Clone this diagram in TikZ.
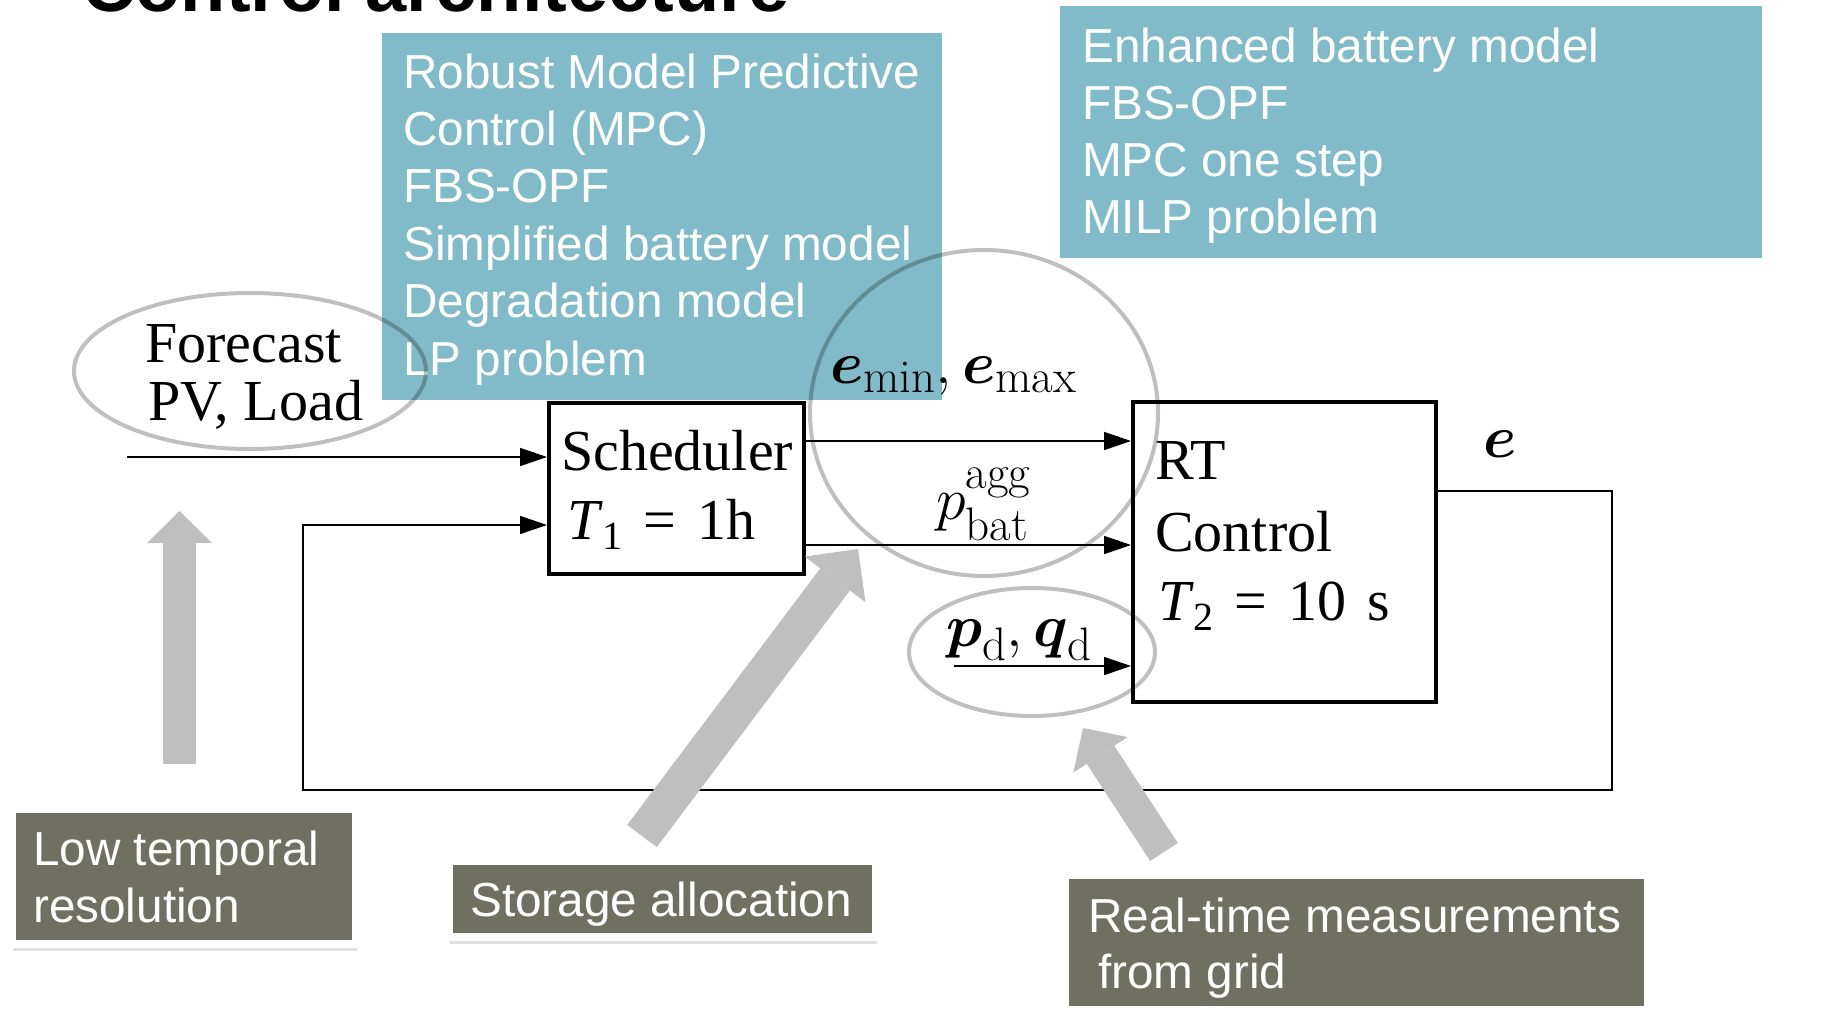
\RequirePackage{fix-cm}
\documentclass[tikz,border=0pt]{standalone}
\usepackage{amsmath}
\usepackage{amssymb}
\usepackage{fontspec}
\newfontfamily\blockfont{Liberation Serif}
\newfontfamily\notefont{Liberation Sans}
\usetikzlibrary{arrows.meta,shadows}
\DeclareMathSizes{60}{60}{47}{36}

\definecolor{mpcteal}{RGB}{129,187,201}
\definecolor{notegray}{RGB}{112,112,98}
\definecolor{hintgray}{RGB}{191,191,191}

\newcommand{\tsub}[2]{\textit{#1}\raisebox{-0.18em}{\fontsize{40}{40}\selectfont #2}}
\newcommand{\eqgap}{\hspace{.36em}}

\tikzset{
  blocktext/.style={anchor=base west, inner sep=0pt, font=\blockfont\fontsize{58}{70}\selectfont},
  mathtext/.style={anchor=base west, inner sep=0pt, font=\fontsize{60}{72}\selectfont},
  listtext/.style={anchor=base west, inner sep=0pt, text=white, font=\notefont\fontsize{47.7}{57}\selectfont},
  block/.style={draw, line width=4pt, inner sep=0pt},
  signal/.style={line width=1.6pt, -{Triangle[length=27pt,width=18pt]}},
  halo/.style={draw=black, draw opacity=0.25, line width=4pt},
  hint/.style={draw=hintgray, line cap=butt},
  notebox/.style={fill=notegray, draw=white, line width=8pt, inner sep=0pt,
    drop shadow={shadow xshift=0.5pt, shadow yshift=-7pt, opacity=0.12, fill=black}},
}

\begin{document}
\begin{tikzpicture}[x=1pt, y=-1pt]
  \useasboundingbox (0,0) rectangle (1839,1012);

  \node[anchor=base west, inner sep=0pt, font=\notefont\bfseries\fontsize{74}{89}\selectfont] (title) at (82,11) {Control architecture};

  % solver notes
  \fill[mpcteal] (382,33) rectangle (942,400);
  \foreach \txt [count=\i from 0] in {Robust Model Predictive, Control (MPC), FBS-OPF, Simplified battery model, Degradation model, LP problem}
    \node[listtext] (mpc\i) at (403,{88+57.4*\i}) {\txt};
  \fill[mpcteal] (1060,6) rectangle (1762,258);
  \foreach \txt [count=\i from 0] in {Enhanced battery model, FBS-OPF, MPC one step, MILP problem}
    \node[listtext] (rt\i) at (1082,{62+57*\i}) {\txt};

  \draw[halo] (250,371) ellipse [x radius=176, y radius=78];
  \draw[halo] (984,413) ellipse [x radius=174, y radius=163];
  \draw[halo] (1032,652) ellipse [x radius=123, y radius=64];

  % the two control blocks
  \node[block, minimum width=255pt, minimum height=171pt] (sched) at (676.5,488.5) {};
  \node[block, minimum width=303pt, minimum height=300pt] (rt) at (1284.5,552) {};

  \node[blocktext] (schedname) at (561,470) {Scheduler};
  \node[blocktext] (schedstep) at (567,539) {\tsub{T}{1}\eqgap=\eqgap1h};
  \node[blocktext] (rtname) at (1155,479) {RT};
  \node[blocktext] (rtname2) at (1155,551) {Control};
  \node[blocktext] (rtstep) at (1158,620) {\tsub{T}{2}\eqgap=\eqgap10\eqgap s};
  \node[blocktext] (fc) at (145,362) {Forecast};
  \node[blocktext] (fc2) at (148,420) {PV, Load};

  \coordinate (fcin) at (127,457);
  \coordinate (elev) at (0,441);
  \coordinate (plev) at (0,545);
  \coordinate (pdin) at (954,666);
  \coordinate (eout) at (0,491);
  \coordinate (fbr) at (1612,790);
  \coordinate (fbl) at (303,790);
  \coordinate (fblev) at (0,525);

  \draw[signal] (fcin) -- (sched.west |- fcin);
  \draw[signal] (sched.east |- elev) -- (rt.west |- elev);
  \draw[signal] (sched.east |- plev) -- (rt.west |- plev);
  \draw[signal] (pdin) -- (rt.west |- pdin);
  \draw[signal] (rt.east |- eout) -| (fbr) -- (fbl) |- (sched.west |- fblev);

  \node[mathtext] (elab) at (830,383) {$\boldsymbol{e}_{\mathrm{min}},\boldsymbol{e}_{\mathrm{max}}$};
  \node[mathtext] (plab) at (936,519) {$p^{\mathrm{agg}}_{\mathrm{bat}}$};
  \node[mathtext] (pqlab) at (946,646) {$\boldsymbol{p}_{\mathrm{d}},\boldsymbol{q}_{\mathrm{d}}$};
  \node[mathtext] (elab2) at (1483,457) {$\boldsymbol{e}$};

  % callouts
  \node[notebox, minimum width=344pt, minimum height=135pt] (lowres) at (184,876.5) {};
  \node[notebox, minimum width=427pt, minimum height=76pt] (storage) at (662.5,899) {};
  \node[notebox, minimum width=583pt, minimum height=135pt] (meas) at (1356.5,942.5) {};
  \node[listtext] (lowres1) at (33,865) {Low temporal};
  \node[listtext] (lowres2) at (33,922) {resolution};
  \node[listtext] (storage1) at (470,916) {Storage allocation};
  \node[listtext] (meas1) at (1088,932) {Real-time measurements};
  \node[listtext] (meas2) at (1098,988) {from grid};

  \coordinate (lowtail) at (179.5,764);
  \coordinate (lowtip) at (179.5,511);
  \coordinate (sttail) at (642,836);
  \coordinate (sttip) at (858,549);
  \coordinate (mstail) at (1164,852);
  \coordinate (mstip) at (1083,728);
  \draw[hint, line width=33pt, -{Triangle[length=32pt,width=65pt,line width=0pt]}] (lowtail) -- (lowtip);
  \draw[hint, line width=37pt, -{Triangle[length=38pt,width=76pt,line width=0pt]}] (sttail) -- (sttip);
  \draw[hint, line width=33pt, -{Triangle[length=32pt,width=65pt,line width=0pt]}] (mstail) -- (mstip);
\end{tikzpicture}
\end{document}
